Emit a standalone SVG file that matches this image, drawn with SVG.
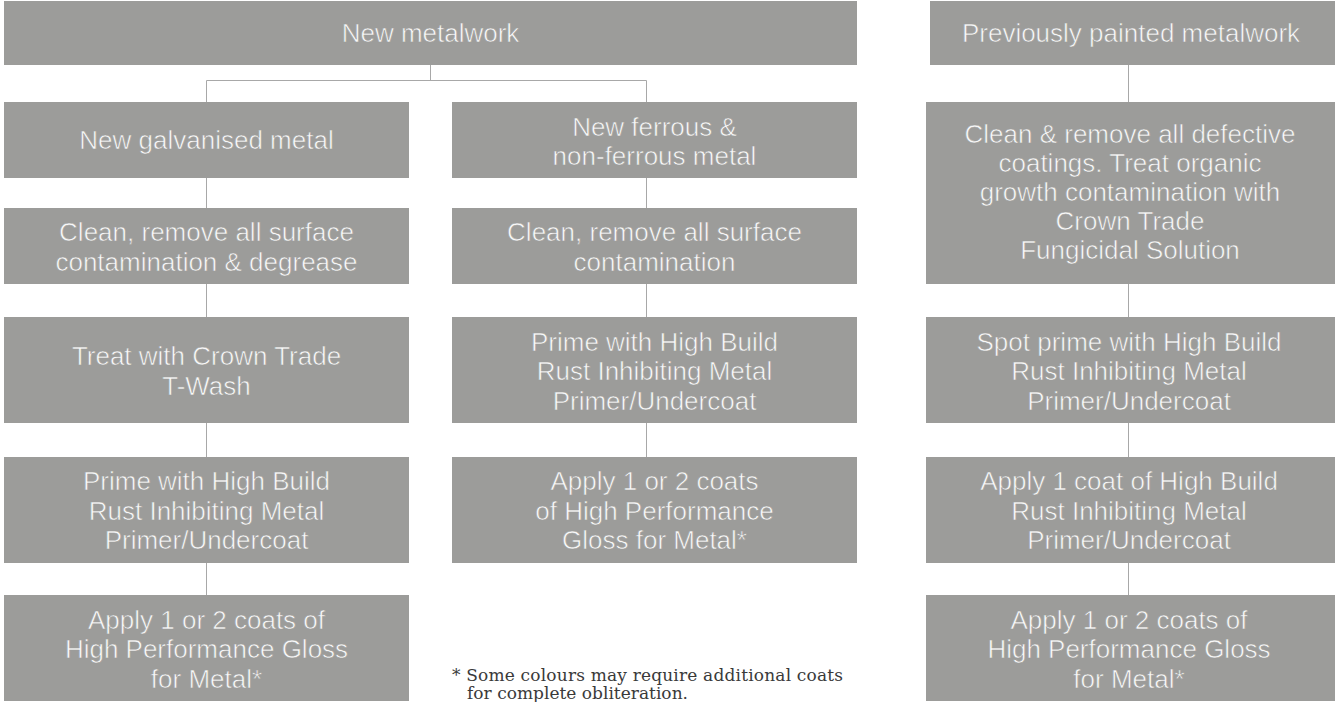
<svg xmlns="http://www.w3.org/2000/svg" width="1335" height="702" viewBox="0 0 1335 702">
<style>
.box{fill:#9c9c9a}
.t{font-family:"Liberation Sans",Arial,sans-serif;font-size:26px;fill:#f8f8f8;stroke:#9c9c9a;stroke-width:0.6;text-anchor:middle}
.c{fill:none;stroke:#a8a8a8;stroke-width:1}
.note{font-family:"DejaVu Serif","Liberation Serif",serif;font-size:17px;fill:#3a3a3a}
</style>
<rect width="1335" height="702" fill="#ffffff"/>
<g id="connectors">
<path class="c" d="M430.5,65V80.5M206.5,80.5H646.5M206.5,80.5V102M646.5,80.5V102"/>
<path class="c" d="M206.5,178V208M206.5,284V317M206.5,423V457M206.5,563V595"/>
<path class="c" d="M646.5,178V208M646.5,284V317M646.5,423V457"/>
<path class="c" d="M1128.5,65V102M1128.5,284V317M1128.5,423V457M1128.5,563V595"/>
</g>
<g id="new-metalwork"><rect class="box" x="4" y="1" width="853" height="64"/><text class="t" x="430.5" y="42">New metalwork</text></g>
<g id="prev-painted"><rect class="box" x="930" y="1" width="405" height="64"/><text class="t" x="1131" y="42">Previously painted metalwork</text></g>
<g id="galv"><rect class="box" x="4" y="102" width="405" height="76"/><text class="t" x="206.5" y="149">New galvanised metal</text></g>
<g id="ferrous"><rect class="box" x="452" y="102" width="405" height="76"/><text class="t" x="654.5"><tspan x="654.5" y="135.5">New ferrous &amp;</tspan><tspan x="654.5" y="165">non-ferrous metal</tspan></text></g>
<g id="defective"><rect class="box" x="926" y="102" width="409" height="182"/><text class="t" x="1130"><tspan x="1130" y="142.5">Clean &amp; remove all defective</tspan><tspan x="1130" y="171.5">coatings. Treat organic</tspan><tspan x="1130" y="200.5">growth contamination with</tspan><tspan x="1130" y="229.5">Crown Trade</tspan><tspan x="1130" y="258.5">Fungicidal Solution</tspan></text></g>
<g id="galv-clean"><rect class="box" x="4" y="208" width="405" height="76"/><text class="t"><tspan x="206.5" y="241">Clean, remove all surface</tspan><tspan x="206.5" y="270.5">contamination &amp; degrease</tspan></text></g>
<g id="ferr-clean"><rect class="box" x="452" y="208" width="405" height="76"/><text class="t"><tspan x="654.5" y="241">Clean, remove all surface</tspan><tspan x="654.5" y="270.5">contamination</tspan></text></g>
<g id="galv-treat"><rect class="box" x="4" y="317" width="405" height="106"/><text class="t"><tspan x="206.5" y="365">Treat with Crown Trade</tspan><tspan x="206.5" y="394.5">T-Wash</tspan></text></g>
<g id="ferr-prime"><rect class="box" x="452" y="317" width="405" height="106"/><text class="t"><tspan x="654.5" y="350.5">Prime with High Build</tspan><tspan x="654.5" y="380">Rust Inhibiting Metal</tspan><tspan x="654.5" y="409.5">Primer/Undercoat</tspan></text></g>
<g id="spot-prime"><rect class="box" x="926" y="317" width="409" height="106"/><text class="t"><tspan x="1129" y="350.5">Spot prime with High Build</tspan><tspan x="1129" y="380">Rust Inhibiting Metal</tspan><tspan x="1129" y="409.5">Primer/Undercoat</tspan></text></g>
<g id="galv-prime"><rect class="box" x="4" y="457" width="405" height="106"/><text class="t"><tspan x="206.5" y="490">Prime with High Build</tspan><tspan x="206.5" y="519.5">Rust Inhibiting Metal</tspan><tspan x="206.5" y="549">Primer/Undercoat</tspan></text></g>
<g id="ferr-apply"><rect class="box" x="452" y="457" width="405" height="106"/><text class="t"><tspan x="654.5" y="490">Apply 1 or 2 coats</tspan><tspan x="654.5" y="519.5">of High Performance</tspan><tspan x="654.5" y="549">Gloss for Metal*</tspan></text></g>
<g id="apply-one"><rect class="box" x="926" y="457" width="409" height="106"/><text class="t"><tspan x="1129" y="490">Apply 1 coat of High Build</tspan><tspan x="1129" y="519.5">Rust Inhibiting Metal</tspan><tspan x="1129" y="549">Primer/Undercoat</tspan></text></g>
<g id="galv-apply"><rect class="box" x="4" y="595" width="405" height="106"/><text class="t"><tspan x="206.5" y="628.5">Apply 1 or 2 coats of</tspan><tspan x="206.5" y="658">High Performance Gloss</tspan><tspan x="206.5" y="687.5">for Metal*</tspan></text></g>
<g id="right-apply"><rect class="box" x="926" y="595" width="409" height="106"/><text class="t"><tspan x="1129" y="628.5">Apply 1 or 2 coats of</tspan><tspan x="1129" y="658">High Performance Gloss</tspan><tspan x="1129" y="687.5">for Metal*</tspan></text></g>
<g id="footnote">
<text class="note" x="452" y="681" textLength="391" lengthAdjust="spacing">* Some colours may require additional coats</text>
<text class="note" x="467" y="699" textLength="221" lengthAdjust="spacing">for complete obliteration.</text>
</g>
</svg>
